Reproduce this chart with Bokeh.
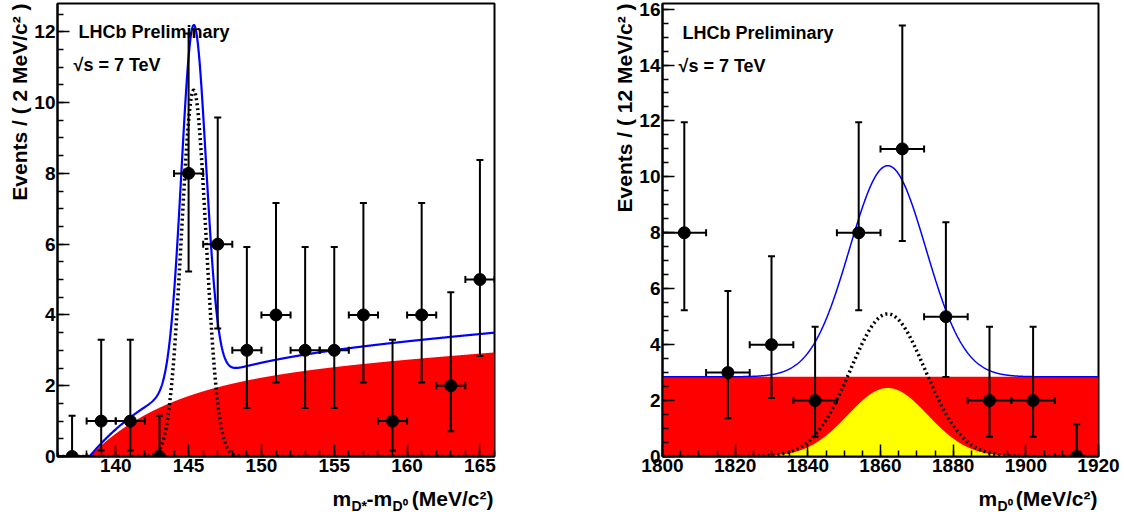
import numpy as np
from bokeh.plotting import figure
from bokeh.layouts import row, column
from bokeh.models import Range1d, SingleIntervalTicker, Label, Title
from bokeh.embed import file_html
from bokeh.resources import INLINE

# ---------------- Left panel: m(D*) - m(D0) ----------------
dm_centers = [137, 139, 141, 143, 145, 147, 149, 151, 153, 155, 157, 159, 161, 163, 165]
dm_counts = [0, 1, 1, 0, 8, 6, 3, 4, 3, 3, 4, 1, 4, 2, 5]
dm_err_lo = [0, 0.17, 0.17, 0, 5.23, 3.62, 1.37, 2.09, 1.37, 1.37, 2.09, 0.17, 2.09, 0.71, 2.84]
dm_err_hi = [1.15, 3.30, 3.30, 1.15, 11.95, 9.58, 5.92, 7.16, 5.92, 5.92, 7.16, 3.30, 7.16, 4.64, 8.38]
dm_halfbin = 1.0

# fit-model parameters
dm_bg_x0, dm_bg_amp, dm_bg_scale, dm_bg_slope = 138.2, 2.12, 5.5, 0.03
dm_total_bg_factor = 1.19
dm_sig_mean, dm_sig_sigma = 145.35, 0.84
dm_sig_amp_dotted, dm_sig_amp_total = 10.35, 10.1

# ---------------- Right panel: m(D0) ----------------
m_centers = [1806, 1818, 1830, 1842, 1854, 1866, 1878, 1890, 1902, 1914]
m_counts = [8, 3, 4, 2, 8, 11, 5, 2, 2, 0]
m_err_lo = [5.23, 1.37, 2.09, 0.71, 5.23, 7.71, 2.84, 0.71, 0.71, 0]
m_err_hi = [11.95, 5.92, 7.16, 4.64, 11.95, 15.41, 8.38, 4.64, 4.64, 1.15]
m_halfbin = 6.0

m_bg_level = 2.85
m_peak_mean = 1862.0
m_yellow_amp, m_yellow_sigma = 2.45, 11.0
m_sig_amp, m_sig_sigma = 5.1, 10.3

FONT = "Liberation Sans"
MAIN_H = 484
STRIP_H = 28


def style(p, xtick, xminor, ytick, yminor, ylabel):
    p.xgrid.visible = False
    p.ygrid.visible = False
    p.outline_line_color = "black"
    p.outline_line_width = 2
    p.outline_line_alpha = 1.0
    p.background_fill_color = "white"
    p.border_fill_color = "white"
    p.xaxis.ticker = SingleIntervalTicker(interval=xtick, num_minor_ticks=xminor)
    p.yaxis.ticker = SingleIntervalTicker(interval=ytick, num_minor_ticks=yminor)
    for ax in (p.xaxis[0], p.yaxis[0]):
        ax.axis_line_width = 2
        ax.axis_line_color = "black"
        ax.major_tick_in = 12
        ax.major_tick_out = 0
        ax.minor_tick_in = 6
        ax.minor_tick_out = 0
        ax.major_tick_line_width = 1.5
        ax.minor_tick_line_width = 1.5
        ax.major_tick_line_color = "black"
        ax.minor_tick_line_color = "black"
        ax.major_label_text_font = FONT
        ax.major_label_text_font_style = "bold"
        ax.major_label_text_font_size = "19px"
        ax.major_label_text_color = "black"
        ax.major_label_standoff = 2
    # y-axis title, aligned to the top end of the axis (ROOT style)
    p.add_layout(Title(text=ylabel, align="right", text_font=FONT, text_font_style="bold",
                       text_font_size="21px", text_color="black", standoff=2,
                       vertical_align="bottom"), "left")


def txt(p, x, y, text, size, align="left"):
    p.add_layout(Label(x=x, y=y, x_units="screen", y_units="screen", text=text,
                       text_font=FONT, text_font_style="bold", text_font_size=size,
                       text_align=align, text_baseline="alphabetic", text_color="black"))


def strip(width, height, bl, br):
    s = figure(width=width, height=height, x_range=Range1d(0, 1), y_range=Range1d(0, 1),
               x_axis_type=None, y_axis_type=None, output_backend="svg", toolbar_location=None,
               min_border=0, min_border_left=bl, min_border_right=br, min_border_top=0,
               min_border_bottom=0)
    s.outline_line_color = None
    s.background_fill_color = "white"
    s.border_fill_color = "white"
    return s


def data_points(p, c, n, lo, hi, hb):
    c = np.array(c, float)
    n = np.array(n, float)
    p.segment(x0=c, y0=lo, x1=c, y1=hi, line_color="black", line_width=2)
    p.segment(x0=c - hb, y0=n, x1=c + hb, y1=n, line_color="black", line_width=2)
    p.scatter(x=c, y=hi, marker="dash", size=7, line_color="black", line_width=2)
    p.scatter(x=c, y=lo, marker="dash", size=7, line_color="black", line_width=2)
    p.scatter(x=np.concatenate([c - hb, c + hb]), y=np.concatenate([n, n]), marker="dash",
              angle=np.pi / 2, size=7, line_color="black", line_width=2)
    p.scatter(x=c, y=n, marker="circle", size=12, fill_color="black", line_color="black")


# ---------------- left figure ----------------
p1 = figure(width=560, height=MAIN_H, x_range=Range1d(136, 166), y_range=Range1d(0, 12.8),
            output_backend="svg", toolbar_location=None,
            min_border_left=57, min_border_right=66, min_border_top=3, min_border_bottom=28)
style(p1, 5, 5, 2, 4, "Events / ( 2 MeV/c² )")

xl = np.linspace(136, 166, 1501)
d = np.clip(xl - dm_bg_x0, 0, None)
bg_l = dm_bg_amp * (1 - np.exp(-d / dm_bg_scale)) + dm_bg_slope * d
g_l = np.exp(-0.5 * ((xl - dm_sig_mean) / dm_sig_sigma) ** 2)
sig_l = dm_sig_amp_dotted * g_l
tot_l = dm_total_bg_factor * bg_l + dm_sig_amp_total * g_l

p1.varea(x=xl, y1=np.zeros_like(xl), y2=bg_l, fill_color="#ff0000")
p1.line(xl, sig_l, line_color="black", line_width=3.5, line_dash="2 3")
p1.line(xl, tot_l, line_color="#0000ff", line_width=2.2)
data_points(p1, dm_centers, dm_counts, dm_err_lo, dm_err_hi, dm_halfbin)

txt(p1, 21, 425, "LHCb Preliminary", "18px")
txt(p1, 16, 392, "√s = 7 TeV", "18px")

# x title strip: m_{D*} - m_{D0} (MeV/c2); frame spans page x 57..494
xl1 = strip(560, STRIP_H, 57, 66)
txt(xl1, 275, 14, "m", "21px")
txt(xl1, 294, 7, "D*", "14px")
txt(xl1, 309, 14, "-m", "21px")
txt(xl1, 335, 7, "D⁰", "14px")
txt(xl1, 436, 14, "(MeV/c²)", "21px", align="right")

# ---------------- right figure ----------------
p2 = figure(width=564, height=MAIN_H, x_range=Range1d(1800, 1920), y_range=Range1d(0, 16.2),
            output_backend="svg", toolbar_location=None,
            min_border_left=102, min_border_right=26, min_border_top=3, min_border_bottom=28)
style(p2, 20, 4, 2, 4, "Events / ( 12 MeV/c² )")

xr = np.linspace(1800, 1920, 1201)
bg_r = np.full_like(xr, m_bg_level)
yel_r = m_yellow_amp * np.exp(-0.5 * ((xr - m_peak_mean) / m_yellow_sigma) ** 2)
sig_r = m_sig_amp * np.exp(-0.5 * ((xr - m_peak_mean) / m_sig_sigma) ** 2)
tot_r = bg_r + yel_r + sig_r

p2.varea(x=xr, y1=np.zeros_like(xr), y2=bg_r, fill_color="#ff0000")
p2.varea(x=xr, y1=np.zeros_like(xr), y2=yel_r, fill_color="#ffff00")
p2.line(xr, sig_r, line_color="black", line_width=3.5, line_dash="2 3")
p2.line(xr, tot_r, line_color="#0000ff", line_width=1.5)
data_points(p2, m_centers, m_counts, m_err_lo, m_err_hi, m_halfbin)

txt(p2, 20, 424, "LHCb Preliminary", "18px")
txt(p2, 16, 391, "√s = 7 TeV", "18px")

# x title strip: m_{D0} (MeV/c2); frame spans page x 662..1098
xl2 = strip(564, STRIP_H, 102, 26)
txt(xl2, 316, 14, "m", "21px")
txt(xl2, 335, 7, "D⁰", "14px")
txt(xl2, 435, 14, "(MeV/c²)", "21px", align="right")

layout = row(column(p1, xl1), column(p2, xl2))
open("out.html", "w").write(file_html(layout, INLINE))
